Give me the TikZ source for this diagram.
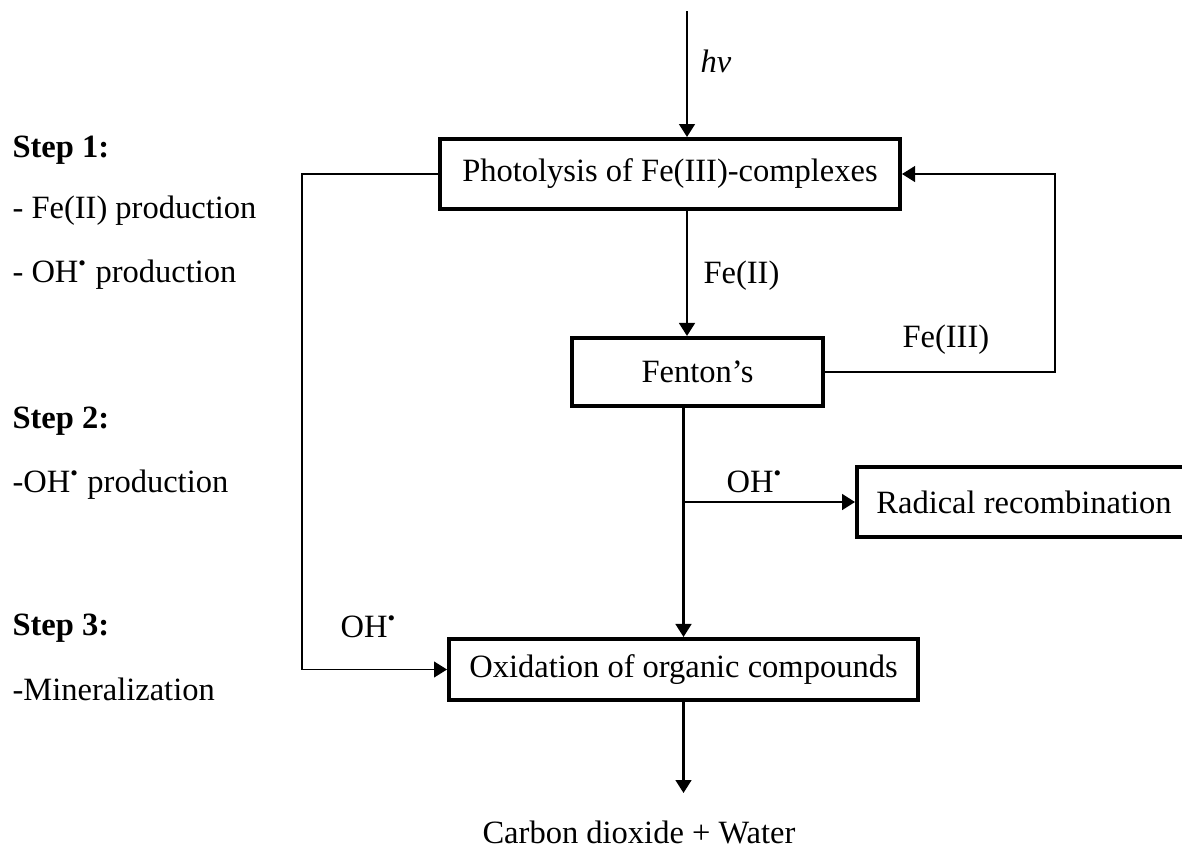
\documentclass[tikz,border=0pt]{standalone}
\usepackage{fontspec}
\setmainfont{Liberation Serif}
\usetikzlibrary{arrows.meta}
\newcommand{\OHrad}{OH\textsuperscript{•}}
\tikzset{process/.style={ % Boxes of the reaction steps
            draw,
            line width=1.6pt,
            rectangle,
            inner sep=0pt},
        flow/.style={ % Connectors with filled arrow heads
            draw,
            line width=0.9pt,
            -{Triangle[length=4.8pt,width=5.8pt]}},
        thinflow/.style={ % Thinner side connectors
            flow,
            line width=0.65pt},
        lbl/.style={ % Plain text, placed by its baseline
            inner sep=0pt,
            anchor=base west}
        }

\begin{document}
\begin{tikzpicture}[x=0.369pt, y=-0.369pt, font=\fontsize{12}{14.4}\selectfont]
    \useasboundingbox (0,0) rectangle (1182,847);

    \node[process, minimum width=169.6pt, minimum height=25.7pt] (photo) at (670,174) {Photolysis of Fe(III)-complexes};
    \node[process, minimum width=92.5pt, minimum height=25pt] (fenton) at (697.5,372) {Fenton’s};
    \node[process, minimum width=123.1pt, minimum height=25.7pt] (radical) at (1024,502) {Radical recombination};
    \node[process, minimum width=172.9pt, minimum height=22.4pt] (oxid) at (683.5,669.5) {Oxidation of organic compounds};
    \node[lbl] (product) at (482,843) {Carbon dioxide + Water};

    % free ends and bends
    \coordinate (sun) at (687,11);
    \coordinate (lbend) at (302,0);
    \coordinate (rbend) at (1055,0);
    \coordinate (tip) at (683.5,793);
    \coordinate (split) at (oxid.north |- radical.west);

    \draw[flow] (sun) -- (sun |- photo.north);
    \draw[flow] (sun |- photo.south) -- (sun |- fenton.north);
    \draw[flow] (fenton.south -| oxid.north) -- (oxid.north);
    \draw[flow] (split) -- (radical.west);
    \draw[flow] (oxid.south) -- (tip);
    \draw[thinflow] (photo.west) -| (lbend |- oxid.west) -- (oxid.west);
    \draw[thinflow] (fenton.east) -| (rbend |- photo.east) -- (photo.east);

    \node[lbl] (hv) at (700,72) {\textit{hv}};
    \node[lbl] (fe2) at (703,283) {Fe(II)};
    \node[lbl] (fe3) at (902,347) {Fe(III)};
    \node[lbl] (ohr) at (726,492) {\OHrad};
    \node[lbl] (ohl) at (340,637) {\OHrad};

    \node[lbl] (step1) at (12,157) {\textbf{Step 1:}};
    \node[lbl] (s1a) at (12,218) {- Fe(II) production};
    \node[lbl] (s1b) at (12,282) {- \OHrad{} production};
    \node[lbl] (step2) at (12,428) {\textbf{Step 2:}};
    \node[lbl] (s2a) at (12,492) {-\OHrad{} production};
    \node[lbl] (step3) at (12,635) {\textbf{Step 3:}};
    \node[lbl] (s3a) at (12,700) {-Mineralization};
\end{tikzpicture}
\end{document}
